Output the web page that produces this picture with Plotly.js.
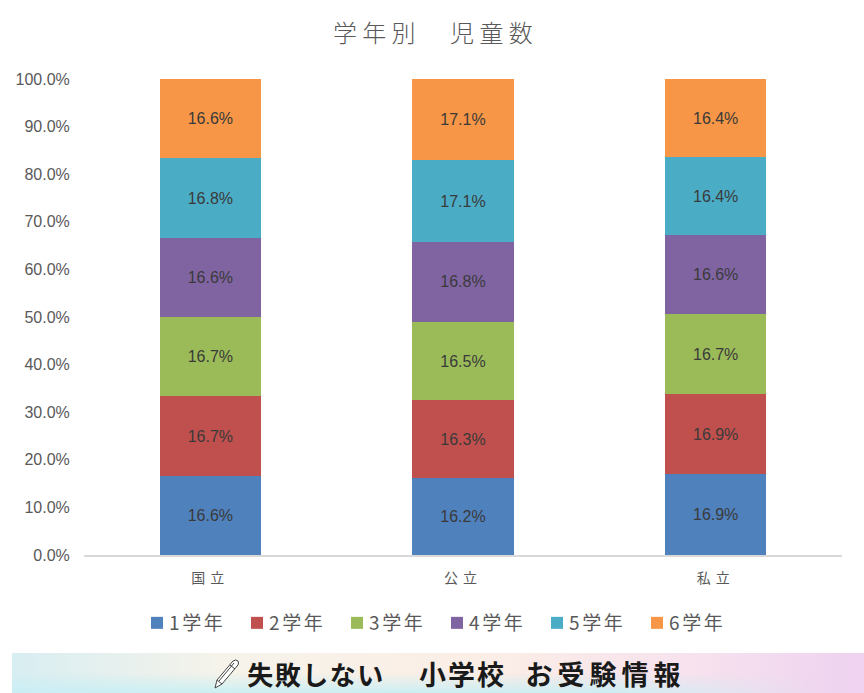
<!DOCTYPE html>
<html><head><meta charset="utf-8">
<script src="https://cdn.plot.ly/plotly-3.0.1.min.js"></script>
<style>
html,body{margin:0;padding:0;background:#fff}
#c{width:864px;height:693px}
.xtick text{letter-spacing:5px}
.legendtext{letter-spacing:2.6px;transform:translateX(-8px)}
.gtitle{letter-spacing:5.3px}
.annotation[data-index="0"] text{letter-spacing:1.5px}
.annotation[data-index="1"] text{letter-spacing:2px}
.annotation[data-index="2"] text{letter-spacing:5px}
</style></head><body><div id="c"></div>
<script>
const schools = ['国立','公立','私立'];
const grades = ['1学年','2学年','3学年','4学年','5学年','6学年'];
const colors = ['#4F81BD','#C0504D','#9BBB59','#8064A2','#4BACC6','#F79646'];
const g1 = [16.6,16.2,16.9];
const g2 = [16.7,16.3,16.9];
const g3 = [16.7,16.5,16.7];
const g4 = [16.6,16.8,16.6];
const g5 = [16.8,17.1,16.4];
const g6 = [16.6,17.1,16.4];
const values = [g1,g2,g3,g4,g5,g6];
const yTicks = [0,10,20,30,40,50,60,70,80,90,100];
const bannerWords = ['失敗しない','小学校','お受験情報'];
const fontStack = '"Liberation Sans","Noto Sans CJK JP",sans-serif';
const cjk = '"Noto Sans CJK JP",sans-serif';
const W = 758, H = 476;

const banner = 'data:image/svg+xml;utf8,' + encodeURIComponent(
 `<svg xmlns="http://www.w3.org/2000/svg" width="852" height="40" viewBox="0 0 852 40">
 <defs><linearGradient id="a" x1="0" x2="1" y1="0" y2="0">
 <stop offset="0" stop-color="#d8eef2"/><stop offset="0.25" stop-color="#f6f3ea"/>
 <stop offset="0.55" stop-color="#fbeee6"/><stop offset="0.8" stop-color="#f7e2ee"/>
 <stop offset="1" stop-color="#eed2f0"/></linearGradient>
 <linearGradient id="b" x1="0" x2="0" y1="0" y2="1">
 <stop offset="0.5" stop-color="#c6eef4" stop-opacity="0"/><stop offset="1" stop-color="#c6eef4" stop-opacity="0.9"/></linearGradient>
 <linearGradient id="m" x1="0" x2="1" y1="0" y2="0"><stop offset="0" stop-color="#fff"/><stop offset="0.7" stop-color="#fff"/><stop offset="0.95" stop-color="#000"/></linearGradient>
 <mask id="k"><rect width="852" height="40" fill="url(#m)"/></mask></defs>
 <rect width="852" height="40" fill="url(#a)"/>
 <rect width="852" height="40" fill="url(#b)" mask="url(#k)"/>
 <g fill="#fff" stroke="#444" stroke-width="1" stroke-linejoin="round">
 <path d="M203 35 L205 27 L221 8 Q224 6 226 8 Q227 10 226 12 L210 31 Z"/>
 <path d="M205 27 L210 31" fill="none"/><path d="M218 12 L223 16" fill="none"/><path d="M207 28 L222 10" fill="none"/>
 </g></svg>`);

const traces = values.map((v,i)=>({
  type:'bar', name:grades[i], x:schools, y:v,
  text:v.map(n=>n.toFixed(1)+'%'), textposition:'inside', insidetextanchor:'middle',
  textangle:0, constraintext:'none', hoverinfo:'skip',
  textfont:{family:fontStack,size:16,color:'#3a3a3a'},
  marker:{color:colors[i],line:{width:0}}
}));

const wordX = [316,462,605];
Plotly.newPlot('c',traces,{
  width:864,height:693,
  margin:{l:84,r:22,t:79,b:138},
  paper_bgcolor:'#fff',plot_bgcolor:'rgba(0,0,0,0)',
  barmode:'stack',barnorm:'percent',bargap:0.6,
  title:{text:'学年別　児童数',x:0.504,xanchor:'center',y:0.952,yanchor:'middle',
    font:{family:cjk,size:24,color:'#595959',weight:300}},
  xaxis:{type:'category',tickfont:{family:cjk,size:14,color:'#595959'},
    showgrid:false,showline:true,linecolor:'#d9d9d9',linewidth:1.5,ticks:'outside',ticklen:10,tickcolor:'rgba(0,0,0,0)',zeroline:false},
  yaxis:{range:[0,100],tickvals:yTicks,ticktext:yTicks.map(t=>t.toFixed(1)+'%'),
    tickfont:{family:fontStack,size:16,color:'#595959'},showgrid:false,showline:false,zeroline:false,
    ticks:'outside',ticklen:10,tickcolor:'rgba(0,0,0,0)'},
  legend:{orientation:'h',x:(434-84+3)/W,xanchor:'center',y:(555-623)/H,yanchor:'middle',itemwidth:30,
    entrywidthmode:'pixels',entrywidth:55,
    traceorder:'normal',font:{family:cjk,size:19,color:'#595959'},bgcolor:'rgba(0,0,0,0)',itemclick:false},
  images:[{source:banner,xref:'paper',yref:'paper',x:(12-84)/W,y:(555-653)/H,sizex:852/W,sizey:40/H,
    xanchor:'left',yanchor:'top',sizing:'stretch',layer:'below'}],
  annotations:bannerWords.map((w,i)=>({text:'<b>'+w+'</b>',xref:'paper',yref:'paper',x:(wordX[i]-84)/W,y:(555-673)/H,
    xanchor:'center',yanchor:'middle',showarrow:false,font:{family:cjk,size:[26,27,27][i],color:'#1a1a1a'}}))
},{displayModeBar:false,staticPlot:true});
</script></body></html>
